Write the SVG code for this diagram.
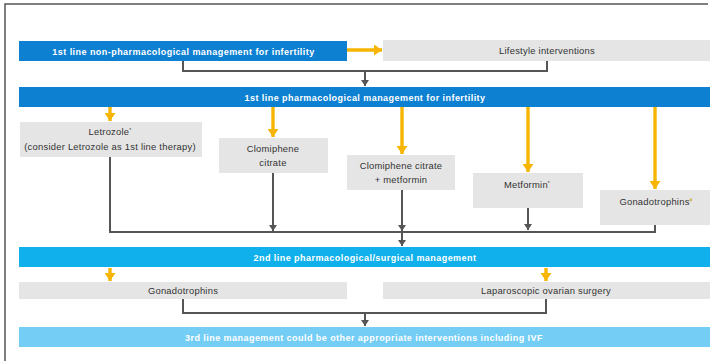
<svg xmlns="http://www.w3.org/2000/svg" width="715" height="361" viewBox="0 0 715 361">
  <style>
    .bar1 { fill: #0d80d2; }
    .bar2 { fill: #0fb0ec; }
    .bar3 { fill: #74cdf5; }
    .box { fill: #e5e5e5; }
    .bt { font-family: "Liberation Sans", Arial, sans-serif; font-size: 9px; letter-spacing: 0.45px; font-weight: bold; fill: #ffffff; text-anchor: middle; }
    .nt { font-family: "Liberation Sans", Arial, sans-serif; font-size: 9.4px; letter-spacing: 0.25px; fill: #333333; text-anchor: middle; }
    .sup { font-size: 5px; }
    .conn { fill: none; stroke: #555555; stroke-width: 2; }
    .yel { fill: none; stroke: #f6b500; stroke-width: 3.4; }
  </style>
  <defs>
    <marker id="ya" markerUnits="userSpaceOnUse" markerWidth="11" markerHeight="11" refX="8" refY="5.5" orient="auto">
      <path d="M0,0 L8,5.5 L0,11 Z" fill="#f6b500"/>
    </marker>
    <marker id="ga" markerUnits="userSpaceOnUse" markerWidth="8" markerHeight="8" refX="6" refY="4" orient="auto">
      <path d="M0,0 L6,4 L0,8 Z" fill="#555555"/>
    </marker>
  </defs>

  <rect width="715" height="361" fill="#ffffff"/>
  <!-- frame -->
  <path d="M5,361 V4 H708" fill="none" stroke="#555555" stroke-width="1.5"/>

  <g id="nonpharm">
    <rect class="bar1" x="19" y="41" width="328" height="20"/>
    <text class="bt" x="183.5" y="54.5">1st line non-pharmacological management for infertility</text>
  </g>
  <g id="lifestyle">
    <rect class="box" x="383" y="40" width="327" height="21"/>
    <text class="nt" x="547" y="54">Lifestyle interventions</text>
  </g>
  <g id="pharm1">
    <rect class="bar1" x="19" y="87" width="691" height="20"/>
    <text class="bt" x="365" y="100.5">1st line pharmacological management for infertility</text>
  </g>
  <g id="letrozole">
    <rect class="box" x="20" y="122" width="182" height="35"/>
    <text class="nt" x="110" y="135">Letrozole<tspan class="sup" dy="-3">*</tspan></text>
    <text class="nt" x="110" y="150">(consider Letrozole as 1st line therapy)</text>
  </g>
  <g id="clomiphene">
    <rect class="box" x="219" y="138" width="109" height="35"/>
    <text class="nt" x="273" y="152">Clomiphene</text>
    <text class="nt" x="273" y="166">citrate</text>
  </g>
  <g id="clomiphene-metformin">
    <rect class="box" x="347" y="155" width="108" height="35"/>
    <text class="nt" x="401" y="169">Clomiphene citrate</text>
    <text class="nt" x="401" y="183">+ metformin</text>
  </g>
  <g id="metformin">
    <rect class="box" x="473" y="173" width="110" height="35"/>
    <text class="nt" x="527" y="188">Metformin<tspan class="sup" dy="-3">*</tspan></text>
  </g>
  <g id="gonadotrophins1">
    <rect class="box" x="600" y="190" width="110" height="35"/>
    <text class="nt" x="656" y="205">Gonadotrophins<tspan class="sup" dy="-3" fill="#c9a200">#</tspan></text>
  </g>
  <g id="pharm2">
    <rect class="bar2" x="19" y="247" width="691" height="20"/>
    <text class="bt" x="365" y="260.5">2nd line pharmacological/surgical management</text>
  </g>
  <g id="gonadotrophins2">
    <rect class="box" x="19" y="282" width="328" height="17"/>
    <text class="nt" x="183" y="294">Gonadotrophins</text>
  </g>
  <g id="laparoscopic">
    <rect class="box" x="383" y="282" width="327" height="17"/>
    <text class="nt" x="546" y="294">Laparoscopic ovarian surgery</text>
  </g>
  <g id="third-line">
    <rect class="bar3" x="19" y="327" width="691" height="20"/>
    <text class="bt" x="364" y="340.5">3rd line management could be other appropriate interventions including IVF</text>
  </g>

  <g id="connectors">
    <!-- yellow arrows -->
    <path class="yel" d="M347,50 H382" marker-end="url(#ya)"/>
    <path class="yel" d="M110,107 V121" marker-end="url(#ya)"/>
    <path class="yel" d="M273,107 V137" marker-end="url(#ya)"/>
    <path class="yel" d="M402,107 V154" marker-end="url(#ya)"/>
    <path class="yel" d="M528,107 V172" marker-end="url(#ya)"/>
    <path class="yel" d="M655,107 V189" marker-end="url(#ya)"/>
    <path class="yel" d="M110,268 V281" marker-end="url(#ya)"/>
    <path class="yel" d="M546,268 V281" marker-end="url(#ya)"/>
    <!-- grey flow lines -->
    <path class="conn" d="M183,61 V71 H547 V61"/>
    <path class="conn" d="M365,71 V86" marker-end="url(#ga)"/>
    <path class="conn" d="M110,157 V232 H655 V225"/>
    <path class="conn" d="M273,173 V231" marker-end="url(#ga)"/>
    <path class="conn" d="M402,190 V231" marker-end="url(#ga)"/>
    <path class="conn" d="M528,208 V230" marker-end="url(#ga)"/>
    <path class="conn" d="M402,232 V246" marker-end="url(#ga)"/>
    <path class="conn" d="M183,299 V313 H546 V299"/>
    <path class="conn" d="M365,313 V326" marker-end="url(#ga)"/>
  </g>
</svg>
